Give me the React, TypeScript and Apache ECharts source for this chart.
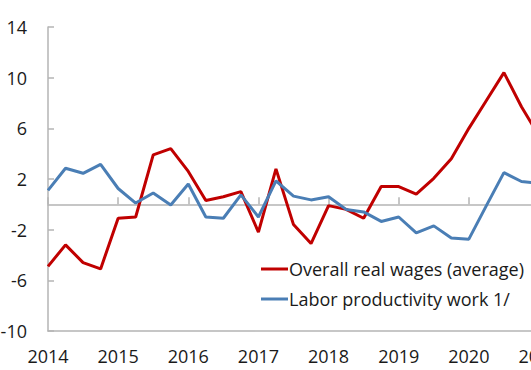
import React, { useEffect, useRef } from "react";
import * as echarts from "echarts";

const quarters: string[] = [
  "2014Q1", "2014Q2", "2014Q3", "2014Q4",
  "2015Q1", "2015Q2", "2015Q3", "2015Q4",
  "2016Q1", "2016Q2", "2016Q3", "2016Q4",
  "2017Q1", "2017Q2", "2017Q3", "2017Q4",
  "2018Q1", "2018Q2", "2018Q3", "2018Q4",
  "2019Q1", "2019Q2", "2019Q3", "2019Q4",
  "2020Q1", "2020Q2", "2020Q3", "2020Q4",
  "2021Q1",
];

const realWages: number[] = [
  -4.9, -3.2, -4.6, -5.1,
  -1.1, -1.0, 3.9, 4.4,
  2.6, 0.3, 0.6, 1.0,
  -2.2, 2.8, -1.6, -3.1,
  -0.1, -0.4, -1.1, 1.4,
  1.4, 0.8, 2.05, 3.6,
  6.0, 8.2, 10.4, 7.7,
  5.4,
];

const laborProductivity: number[] = [
  1.1, 2.85, 2.45, 3.15,
  1.25, 0.1, 0.9, -0.05,
  1.6, -1.0, -1.1, 0.75,
  -1.0, 1.85, 0.65, 0.35,
  0.6, -0.4, -0.6, -1.35,
  -1.0, -2.25, -1.7, -2.65,
  -2.75, -0.1, 2.5, 1.8,
  1.65,
];

const yTicks = { min: -10, max: 14, step: 4 };

const seriesNames = ["Overall real wages (average)", "Labor productivity work 1/"];
const seriesColors = ["#C00000", "#4A7EB5"];

const FONT = "Open Sans";
const TEXT = "#1a1a1a";
const AXIS = "#B4B4B4";

export default function App() {
  const ref = useRef<HTMLDivElement>(null);

  useEffect(() => {
    if (!ref.current) return;
    const chart = echarts.init(ref.current, undefined, { renderer: "svg" });
    chart.setOption({
      animation: false,
      textStyle: { fontFamily: FONT },
      grid: {
        left: 48,
        top: 27,
        bottom: 39,
        right: -8,
        containLabel: false,
        outerBoundsMode: "none",
      },
      legend: {
        orient: "vertical",
        left: 256,
        top: 255,
        itemWidth: 27,
        itemHeight: 10,
        itemGap: 12,
        textStyle: { fontFamily: FONT, fontSize: 18, color: TEXT, padding: [0, 0, 0, -4] },
        data: seriesNames.map((n, i) => ({
          name: n,
          icon: "path://M0,4 L27,4 L27,7 L0,7 Z",
          itemStyle: { color: seriesColors[i] },
        })),
      },
      xAxis: [
        {
          type: "category",
          data: quarters,
          boundaryGap: false,
          axisLine: { onZero: true, lineStyle: { color: AXIS, width: 1.5 } },
          axisTick: { show: true, inside: true, length: 7, interval: 3, lineStyle: { color: AXIS, width: 1.5 } },
          axisLabel: { show: false },
          splitLine: { show: false },
        },
        {
          type: "category",
          data: quarters,
          boundaryGap: false,
          position: "bottom",
          axisLine: { onZero: false, lineStyle: { color: AXIS, width: 1.5 } },
          axisTick: { show: false },
          axisLabel: {
            show: true,
            interval: 3,
            margin: 16,
            fontFamily: FONT,
            fontSize: 18,
            color: TEXT,
            formatter: (v: string) => v.slice(0, 4),
          },
          splitLine: { show: false },
        },
      ],
      yAxis: {
        type: "value",
        min: yTicks.min,
        max: yTicks.max,
        interval: yTicks.step,
        axisLine: { show: true, lineStyle: { color: AXIS, width: 1.5 } },
        axisTick: { show: true, inside: true, length: 6, lineStyle: { color: AXIS, width: 1.5 } },
        axisLabel: { margin: 21, fontFamily: FONT, fontSize: 18, color: TEXT },
        splitLine: { show: false },
      },
      series: [
        {
          name: seriesNames[0],
          type: "line",
          xAxisIndex: 0,
          data: realWages,
          symbol: "none",
          lineStyle: { color: seriesColors[0], width: 3 },
          itemStyle: { color: seriesColors[0] },
        },
        {
          name: seriesNames[1],
          type: "line",
          xAxisIndex: 0,
          data: laborProductivity,
          symbol: "none",
          lineStyle: { color: seriesColors[1], width: 3 },
          itemStyle: { color: seriesColors[1] },
        },
      ],
    });
    return () => chart.dispose();
  }, []);

  return (
    <div
      ref={ref}
      style={{ position: "fixed", left: 0, top: 0, width: 531, height: 370, background: "#fff" }}
    />
  );
}
